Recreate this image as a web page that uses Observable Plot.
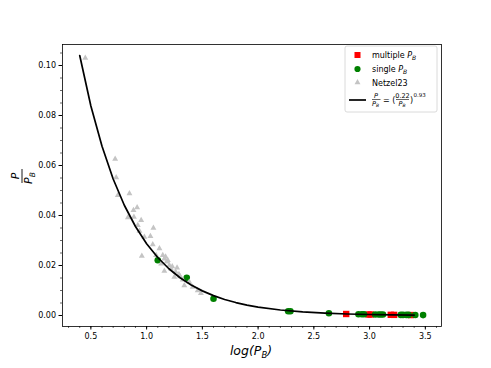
<!DOCTYPE html>
<html><head><meta charset="utf-8">
<script src="https://cdn.jsdelivr.net/npm/d3@7"></script>
<script src="https://cdn.jsdelivr.net/npm/@observablehq/plot@0.6"></script>
<style>body{margin:0;background:#fff}#chart{position:relative;width:491px;height:368px}</style>
</head><body><div id="chart"></div>
<script>
// Fit curve P/P_B = (0.22/P_B)^0.93
const curveX = [0.4,0.5,0.6,0.7,0.8,0.9,1.0,1.1,1.2,1.3,1.4,1.5,1.6,1.7,1.8,1.9,2.0,2.2,2.4,2.6,2.8,3.0,3.2,3.4];
const curveY = [0.1040,0.0838,0.0677,0.0546,0.0441,0.0356,0.0287,0.0232,0.0187,0.0151,0.0122,0.00985,0.00795,0.00642,0.00518,0.00418,0.00338,0.00220,0.00143,0.00093,0.00061,0.00040,0.00026,0.00017];
// Netzel23 (grey triangles)
const netX = [0.45,0.718,0.727,0.742,0.846,0.882,0.915,0.832,0.886,0.951,0.921,1.061,0.936,1.034,0.980,1.055,1.115,0.957,1.085,1.145,1.159,1.190,1.130,1.204,1.219,1.273,1.159,1.249,1.324,1.383,1.338,1.413,1.458,1.487,1.17,1.18,1.23,1.26,1.29,1.30];
const netY = [0.103,0.0626,0.0552,0.0481,0.0488,0.0421,0.0432,0.0392,0.0394,0.0381,0.0361,0.0350,0.0338,0.0317,0.0314,0.0284,0.0268,0.0238,0.0241,0.0241,0.0227,0.0221,0.0207,0.0201,0.0187,0.0191,0.0178,0.0154,0.0143,0.0134,0.0120,0.0114,0.0100,0.0089,0.0235,0.0215,0.0196,0.0175,0.0165,0.0156];
// multiple P_B (red squares)
const multX = [2.79,2.99,3.01,3.19,3.22,3.37];
const multY = [0.0006,0.0004,0.0004,0.00027,0.00025,0.00018];
// single P_B (green circles)
const singX = [1.10,1.36,1.60,2.27,2.29,2.635,2.90,2.93,2.95,3.05,3.08,3.10,3.12,3.28,3.30,3.33,3.35,3.41,3.48];
const singY = [0.0221,0.0151,0.0067,0.0017,0.0017,0.0009,0.0005,0.0005,0.0005,0.0004,0.0004,0.0004,0.0004,0.00025,0.00025,0.00024,0.00024,0.0002,0.00016];
const xTicks = [0.5,1.0,1.5,2.0,2.5,3.0,3.5];
const yTicks = [0.00,0.02,0.04,0.06,0.08,0.10];

const curve = curveX.map((x,i)=>({x, y: curveY[i]}));
const net = netX.map((x,i)=>({x, y: netY[i]}));
const mult = multX.map((x,i)=>({x, y: multY[i]}));
const sing = singX.map((x,i)=>({x, y: singY[i]}));
const xMinor = d3.range(3, 37).map(d => d/10);
const yMinor = d3.range(0, 22).map(d => d*0.005);

const plot = Plot.plot({
  width: 491, height: 368,
  marginLeft: 62, marginRight: 50, marginTop: 44, marginBottom: 42,
  style: {fontFamily: "DejaVu Sans", fontSize: "8px", color: "#000", background: "#fff"},
  x: {domain: [0.2455, 3.645]},
  y: {domain: [-0.0044, 0.1084]},
  marks: [
    Plot.axisX({ticks: xMinor, tickSize: 2, tickFormat: null, text: null, label: null, strokeWidth: 0.6}),
    Plot.axisY({ticks: yMinor, tickSize: 2, tickFormat: null, text: null, label: null, strokeWidth: 0.6}),
    Plot.axisX({ticks: xTicks, tickSize: 3.5, tickPadding: 3, tickFormat: d3.format(".1f"), label: null, fontSize: 8}),
    Plot.axisY({ticks: yTicks, tickSize: 3.5, tickPadding: 3, tickFormat: d3.format(".2f"), label: null, fontSize: 8}),
    Plot.dot(mult, {x: "x", y: "y", symbol: "square", r: 3.6, fill: "#ff0000", stroke: "none"}),
    Plot.dot(sing, {x: "x", y: "y", symbol: "circle", r: 3.3, fill: "#008000", stroke: "none"}),
    Plot.dot(net, {x: "x", y: "y", symbol: "triangle", r: 2.2, fill: "#c4c4c4", stroke: "none"}),
    Plot.line(curve, {x: "x", y: "y", stroke: "#000", strokeWidth: 1.7}),
    Plot.frame({stroke: "#000", strokeWidth: 0.8})
  ]
});
document.getElementById("chart").appendChild(plot);

const svg = d3.select(plot);
const F = "DejaVu Sans";
// x label
svg.append("text").attr("x", 251).attr("y", 355).attr("text-anchor", "middle")
  .attr("font-family", F).attr("font-size", 12.5).attr("font-style", "italic")
  .html('log(P<tspan font-size="8.5" dy="3">B</tspan><tspan dy="-3">)</tspan>');
// y label: rotated fraction P / P_B
const yl = svg.append("g").attr("transform", "translate(22,176) rotate(-90)")
  .attr("font-family", F).attr("font-style", "italic");
yl.append("text").attr("x", 0).attr("y", -3).attr("text-anchor", "middle").attr("font-size", 11).text("P");
yl.append("line").attr("x1", -7).attr("x2", 7).attr("y1", 0).attr("y2", 0).attr("stroke", "#000").attr("stroke-width", 0.9);
yl.append("text").attr("x", -2).attr("y", 10).attr("text-anchor", "middle").attr("font-size", 11)
  .html('P<tspan font-size="7.5" dy="2.5">B</tspan>');

// legend
const lg = svg.append("g").attr("font-family", F).attr("font-size", 8).attr("text-anchor", "start");
lg.append("rect").attr("x", 345).attr("y", 46).attr("width", 92).attr("height", 66).attr("rx", 2)
  .attr("fill", "#fff").attr("fill-opacity", 0.8).attr("stroke", "#d0d0d0").attr("stroke-width", 0.8);
lg.append("path").attr("d", d3.symbol(d3.symbolSquare, Math.PI*3.4*3.4)()).attr("transform", "translate(357.5,55)").attr("fill", "#ff0000");
lg.append("path").attr("d", d3.symbol(d3.symbolCircle, Math.PI*3.1*3.1)()).attr("transform", "translate(357.5,69)").attr("fill", "#008000");
lg.append("path").attr("d", d3.symbol(d3.symbolTriangle, Math.PI*2.2*2.2)()).attr("transform", "translate(357.5,82.5)").attr("fill", "#c4c4c4");
lg.append("line").attr("x1", 349).attr("x2", 366).attr("y1", 100).attr("y2", 100).attr("stroke", "#000").attr("stroke-width", 1.7);
lg.append("text").attr("x", 372).attr("y", 58).html('multiple <tspan font-style="italic">P</tspan><tspan font-style="italic" font-size="6" dy="2">B</tspan>');
lg.append("text").attr("x", 372).attr("y", 72).html('single <tspan font-style="italic">P</tspan><tspan font-style="italic" font-size="6" dy="2">B</tspan>');
lg.append("text").attr("x", 372).attr("y", 85.5).text("Netzel23");
// formula: P/P_B = (0.22/P_B)^0.93
const fm = lg.append("g").attr("font-size", 6.5);
fm.append("text").attr("x", 376).attr("y", 97.5).attr("text-anchor", "middle").attr("font-style", "italic").text("P");
fm.append("line").attr("x1", 372).attr("x2", 380.5).attr("y1", 99.5).attr("y2", 99.5).attr("stroke", "#000").attr("stroke-width", 0.6);
fm.append("text").attr("x", 375.5).attr("y", 105.5).attr("text-anchor", "middle").attr("font-style", "italic")
  .html('P<tspan font-size="4.5" dy="1.5">B</tspan>');
fm.append("text").attr("x", 383).attr("y", 102.5).attr("font-size", 8).text("= (");
fm.append("text").attr("x", 402.5).attr("y", 97.5).attr("text-anchor", "middle").text("0.22");
fm.append("line").attr("x1", 396).attr("x2", 409).attr("y1", 99.5).attr("y2", 99.5).attr("stroke", "#000").attr("stroke-width", 0.6);
fm.append("text").attr("x", 402).attr("y", 105.5).attr("text-anchor", "middle").attr("font-style", "italic")
  .html('P<tspan font-size="4.5" dy="1.5">B</tspan>');
fm.append("text").attr("x", 410).attr("y", 102.5).attr("font-size", 8).text(")");
fm.append("text").attr("x", 413.5).attr("y", 97).attr("font-size", 5.5).text("0.93");
</script></body></html>
